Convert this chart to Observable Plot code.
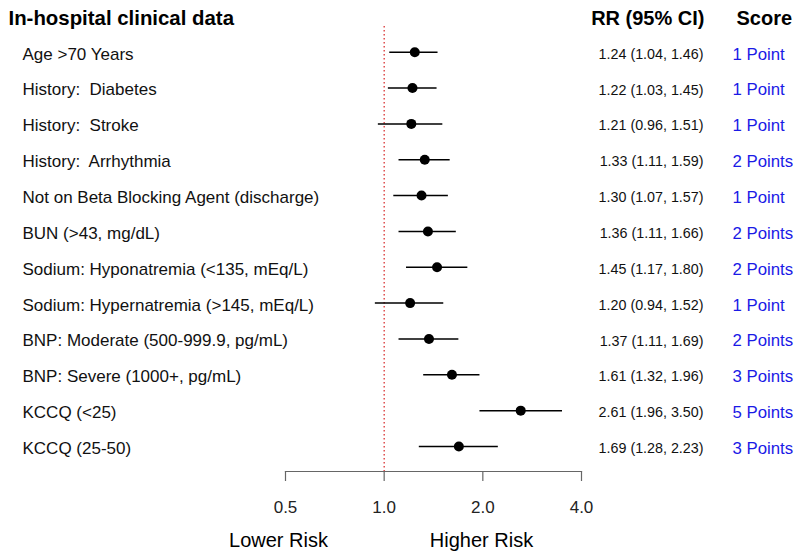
<!DOCTYPE html>
<html>
<head>
<meta charset="utf-8">
<script src="https://cdn.jsdelivr.net/npm/d3@7"></script>
<script src="https://cdn.jsdelivr.net/npm/@observablehq/plot@0.6"></script>
<style>
  html, body { margin: 0; padding: 0; background: #fff; }
</style>
</head>
<body>
<div id="chart"></div>
<script>
const labels = [
  "Age >70 Years",
  "History:  Diabetes",
  "History:  Stroke",
  "History:  Arrhythmia",
  "Not on Beta Blocking Agent (discharge)",
  "BUN (>43, mg/dL)",
  "Sodium: Hyponatremia (<135, mEq/L)",
  "Sodium: Hypernatremia (>145, mEq/L)",
  "BNP: Moderate (500-999.9, pg/mL)",
  "BNP: Severe (1000+, pg/mL)",
  "KCCQ (<25)",
  "KCCQ (25-50)"
];
const rr = [1.24, 1.22, 1.21, 1.33, 1.30, 1.36, 1.45, 1.20, 1.37, 1.61, 2.61, 1.69];
const lower = [1.04, 1.03, 0.96, 1.11, 1.07, 1.11, 1.17, 0.94, 1.11, 1.32, 1.96, 1.28];
const upper = [1.46, 1.45, 1.51, 1.59, 1.57, 1.66, 1.80, 1.52, 1.69, 1.96, 3.50, 2.23];
const scores = [1, 1, 1, 2, 1, 2, 2, 1, 2, 3, 5, 3];
const xTicks = [0.5, 1, 2, 4];
const refValue = [1];
const title = "In-hospital clinical data";
const rrHeader = "RR (95% CI)";
const scoreHeader = "Score";
const riskLabels = ["Lower Risk", "Higher Risk"];

const rows = labels.map((label, i) => ({
  label,
  rr: rr[i],
  lo: lower[i],
  hi: upper[i],
  rrText: `${rr[i].toFixed(2)} (${lower[i].toFixed(2)}, ${upper[i].toFixed(2)})`,
  scoreText: `${scores[i]} ${scores[i] === 1 ? "Point" : "Points"}`
}));

const W = 800, H = 556;
const mL = 285, mR = 219, mT = 26, mB = 85;
const font = "'Liberation Sans', Arial, Helvetica, sans-serif";

const chart = Plot.plot({
  width: W,
  height: H,
  marginLeft: mL,
  marginRight: mR,
  marginTop: mT,
  marginBottom: mB,
  style: { fontFamily: font, color: "#111", background: "#fff", overflow: "visible" },
  x: { type: "log", domain: [0.5, 4], axis: null },
  y: { type: "point", domain: labels, range: [51.7, 446], padding: 0, round: false, axis: null },
  marks: [
    Plot.ruleX(refValue, { stroke: "#d62020", strokeWidth: 1.2, strokeDasharray: "1.5,2.5" }),
    Plot.frame({ anchor: "bottom", stroke: "#666", strokeWidth: 1.2 }),
    Plot.axisX({
      ticks: xTicks,
      tickFormat: d => d.toFixed(1),
      tickSize: 10,
      tickPadding: 19,
      fontSize: 17,
      stroke: "#666",
      strokeWidth: 1.2,
      fill: "#222"
    }),
    Plot.ruleY(rows, { y: "label", x1: "lo", x2: "hi", stroke: "#000", strokeWidth: 1.5 }),
    Plot.dot(rows, { y: "label", x: "rr", r: 5, fill: "#000", stroke: "none" }),
    Plot.text(rows, {
      y: "label", text: "label", frameAnchor: "left", dx: 22 - mL, dy: 2,
      textAnchor: "start", lineAnchor: "middle", fontSize: 17, fill: "#111"
    }),
    Plot.text(rows, {
      y: "label", text: "rrText", frameAnchor: "right", dx: 703 - (W - mR), dy: 2,
      textAnchor: "end", lineAnchor: "middle", fontSize: 14.3, fill: "#111"
    }),
    Plot.text(rows, {
      y: "label", text: "scoreText", frameAnchor: "right", dx: 732 - (W - mR), dy: 2,
      textAnchor: "start", lineAnchor: "middle", fontSize: 16.8, fill: "#1a1ae6"
    }),
    Plot.text([title], {
      text: d => d, frameAnchor: "top-left", dx: 8 - mL, dy: 18 - mT,
      textAnchor: "start", lineAnchor: "middle", fontSize: 20.4, fontWeight: "bold", fill: "#000"
    }),
    Plot.text([rrHeader], {
      text: d => d, frameAnchor: "top-right", dx: 704 - (W - mR), dy: 18 - mT,
      textAnchor: "end", lineAnchor: "middle", fontSize: 20, fontWeight: "bold", fill: "#000"
    }),
    Plot.text([scoreHeader], {
      text: d => d, frameAnchor: "top-right", dx: 736 - (W - mR), dy: 18 - mT,
      textAnchor: "start", lineAnchor: "middle", fontSize: 20, fontWeight: "bold", fill: "#000"
    }),
    Plot.text([riskLabels[0]], {
      text: d => d, frameAnchor: "bottom-left", dx: 278 - mL, dy: 540 - (H - mB),
      textAnchor: "middle", lineAnchor: "middle", fontSize: 20, fill: "#000"
    }),
    Plot.text([riskLabels[1]], {
      text: d => d, frameAnchor: "bottom-left", dx: 481 - mL, dy: 540 - (H - mB),
      textAnchor: "middle", lineAnchor: "middle", fontSize: 20, fill: "#000"
    })
  ]
});
document.getElementById("chart").appendChild(chart);
</script>
</body>
</html>
